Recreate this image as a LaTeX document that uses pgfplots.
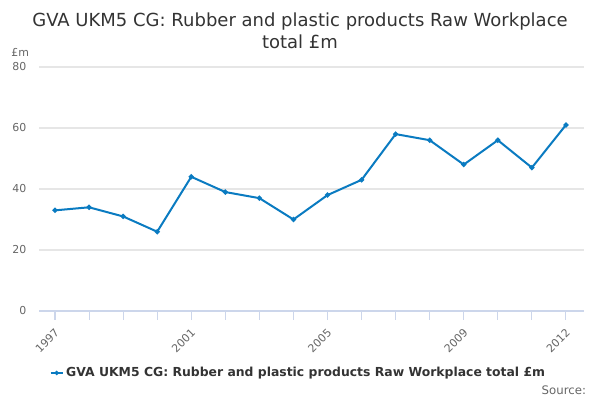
\documentclass[border=0pt]{standalone}
\usepackage{pgfplots}
\pgfplotsset{compat=1.18}
\usepackage{fontspec}
\setmainfont{DejaVu Sans}

\definecolor{series}{HTML}{0A7BC1}
\definecolor{axisline}{HTML}{CCD6EB}
\definecolor{gridc}{HTML}{E6E6E6}
\definecolor{ticktext}{HTML}{666666}
\definecolor{titletext}{HTML}{333333}

\begin{document}
\begin{tikzpicture}
  \begin{axis}[
    at={(29.25pt,66.75pt)}, anchor=south west,
    scale only axis,
    width=408.75pt, height=183pt,
    xmin=1996.53, xmax=2012.53,
    ymin=0, ymax=80,
    axis x line*=bottom, axis y line*=left,
    x axis line style={color=axisline, thick, -},
    y axis line style={draw=none},
    xtick={1997,2001,2005,2009,2012},
    minor xtick={1998,1999,2000,2002,2003,2004,2006,2007,2008,2010,2011},
    xtick align=outside,
    major tick length=6.75pt,
    minor tick length=6.75pt,
    xtick style={color=axisline, thick},
    minor x tick style={color=axisline, thick},
    ytick={0,20,40,60,80},
    ytick style={draw=none},
    ymajorgrids,
    grid style={color=gridc, thick},
    minor grid style={draw=none},
    tick label style={font=\fontsize{8.2}{10}\selectfont, color=ticktext},
    x tick label style={rotate=45, anchor=north east, xshift=-1pt, yshift=0pt},
    y tick label style={xshift=-6pt},
    /pgf/number format/assume math mode=true,
    /pgf/number format/1000 sep={},
    legend style={at={(axis description cs:0.0,-0.254)}, anchor=west,
      xshift=5pt,
      draw=none, fill=none,
      font=\bfseries\fontsize{9.3}{11}\selectfont, text=titletext},
    legend image code/.code={
      \draw[#1, line width=1.2pt, mark size=1pt, mark repeat=2, mark phase=2] plot coordinates {(0pt,0pt) (4.5pt,0pt) (9pt,0pt)};
    },
  ]
    \addplot[color=series, line width=1.5pt, mark=*, mark size=1.1pt] coordinates {
      (1997, 33) (1998, 34) (1999, 31) (2000, 26)
      (2001, 44) (2002, 39) (2003, 37) (2004, 30)
      (2005, 38) (2006, 43) (2007, 58) (2008, 56)
      (2009, 48) (2010, 56) (2011, 47) (2012, 61)
    };
    \addlegendentry{GVA UKM5 CG: Rubber and plastic products Raw Workplace total £m}
  \end{axis}
  \node[font=\fontsize{13.5}{16}\selectfont, color=titletext, align=center]
    at (225pt,277pt) {GVA UKM5 CG: Rubber and plastic products Raw Workplace\\total £m};
  \node[font=\fontsize{8.2}{10}\selectfont, color=ticktext, anchor=west] at (5pt,261pt) {£m};
  \node[font=\fontsize{8.8}{10}\selectfont, color=ticktext, anchor=east] at (443pt,7.5pt) {Source:};
  \pgfresetboundingbox
  \path (0,0) rectangle (450pt,300pt);
\end{tikzpicture}
\end{document}
